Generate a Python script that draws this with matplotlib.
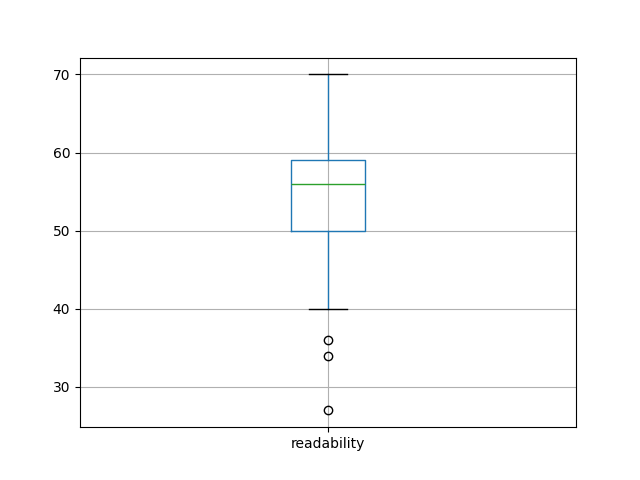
import pandas as pd
import matplotlib
matplotlib.use('Agg')
import matplotlib.pyplot as plt

# readability scores (sorted), chosen to give the box/whisker stats seen in the chart
readability = [27, 34, 36, 40, 50, 52, 54, 55, 56, 57, 58, 59, 59, 62, 65, 68, 70]

df = pd.DataFrame({'readability': readability})

fig = plt.figure(figsize=(6.4, 4.8), dpi=100)
ax = fig.add_subplot(111)
df.boxplot(column=['readability'], ax=ax, grid=True)

plt.savefig('out.png')
